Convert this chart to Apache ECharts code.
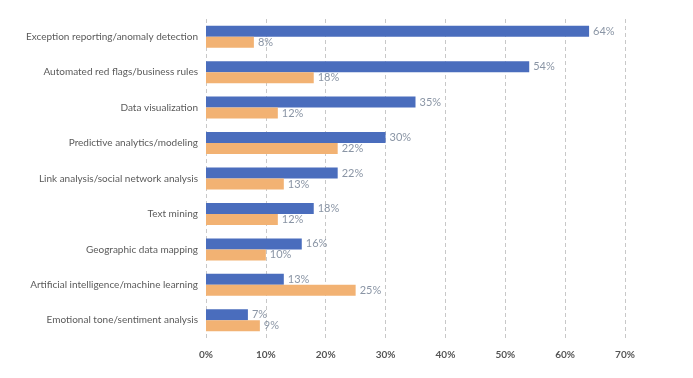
<!DOCTYPE html>
<html><head><meta charset="utf-8">
<script src="https://cdn.jsdelivr.net/npm/echarts@6/dist/echarts.min.js"></script>
<style>html,body{margin:0;padding:0;background:#fff}#c{width:693px;height:378px}</style>
</head><body><div id="c"></div>
<script>
const categories = ["Exception reporting/anomaly detection","Automated red flags/business rules","Data visualization","Predictive analytics/modeling","Link analysis/social network analysis","Text mining","Geographic data mapping","Artificial intelligence/machine learning","Emotional tone/sentiment analysis"];
const seriesA = [64,54,35,30,22,18,16,13,7];
const seriesB = [8,18,12,22,13,12,10,25,9];
const xTicks = [0,10,20,30,40,50,60,70];

const chart = echarts.init(document.getElementById('c'));
const lbl = {show:true, position:'right', distance:4, formatter:p=>p.value+'%', color:'#8a95a5', fontSize:11, fontFamily:'Lato, "Open Sans", sans-serif'};
chart.setOption({
  animation:false,
  grid:{left:206, right:68, top:19, bottom:40, containLabel:false},
  xAxis:{type:'value', min:xTicks[0], max:xTicks[xTicks.length-1], interval:10,
    axisLine:{show:false}, axisTick:{show:false},
    splitLine:{show:true, lineStyle:{type:[4,3], color:'#c8c8c8', width:1}},
    axisLabel:{formatter:v=>v+'%', color:'#555', fontWeight:'bold', fontSize:10, margin:12, fontFamily:'Lato, "Open Sans", sans-serif'}},
  yAxis:{type:'category', data:categories, inverse:true,
    axisLine:{show:false}, axisTick:{show:false},
    axisLabel:{color:'#5a5a5a', fontSize:10, margin:8, fontFamily:'Lato, "Open Sans", sans-serif'}},
  series:[
    {type:'bar', data:seriesA, barWidth:11, barGap:'0%', itemStyle:{color:'#4a6dbd'}, label:lbl},
    {type:'bar', data:seriesB, barWidth:11, barGap:'0%', itemStyle:{color:'#f2b273'}, label:lbl}
  ]
});
</script></body></html>
